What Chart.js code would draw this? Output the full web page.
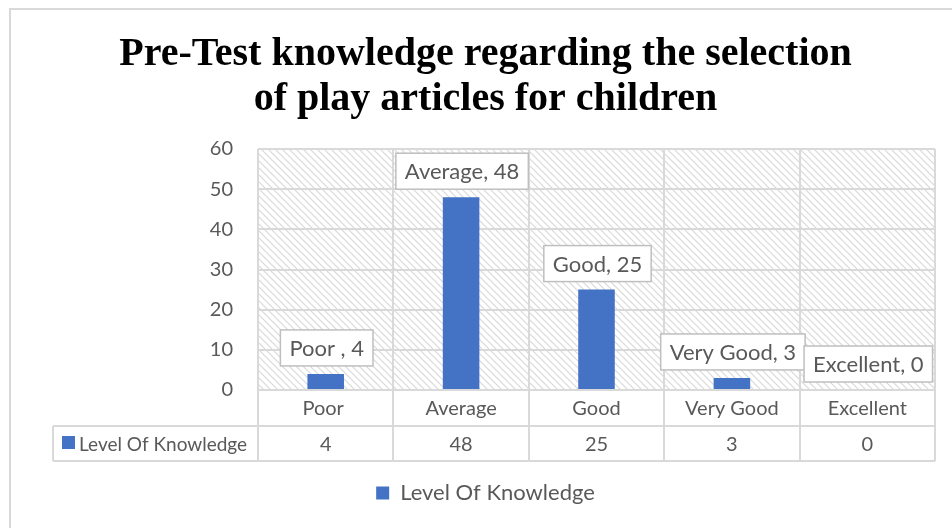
<!DOCTYPE html>
<html>
  <head>
    <title>Pre-Test knowledge</title>
    <script src="https://cdn.jsdelivr.net/npm/chart.js@4.4.0/dist/chart.umd.min.js"></script>
    <style>
      body { margin: 0; background: #fff; overflow: hidden; }
      #frame { position: absolute; left: 9px; top: 8px; width: 1000px; height: 600px; border: 2px solid #d9d9d9; }
      #myChart { position: absolute; left: 0; top: 0; }
    </style>
  </head>
  <body>
    <div id="frame"></div>
    <canvas id="myChart" width="952" height="528"></canvas>
    <script>
      // chart data
      var categories = ["Poor ", "Average", "Good", "Very Good", "Excellent"];
      var values = [4, 48, 25, 3, 0];
      var seriesName = "Level Of Knowledge";
      var yTicks = [0, 10, 20, 30, 40, 50, 60];

      var textGray = "#595959";
      var lineGray = "#d9d9d9";
      var barBlue = "#4472c4";
      var sans = "Lato";

      // diagonal hatch for the plot background
      function makeHatch() {
        var s = 7;
        var c = document.createElement("canvas");
        c.width = s;
        c.height = s;
        var g = c.getContext("2d");
        g.strokeStyle = lineGray;
        g.lineWidth = 1.2;
        g.beginPath();
        g.moveTo(-1, -1);
        g.lineTo(s + 1, s + 1);
        g.moveTo(-1, s - 1);
        g.lineTo(1, s + 1);
        g.moveTo(s - 1, -1);
        g.lineTo(s + 1, 1);
        g.stroke();
        return c;
      }

      var hatchPlugin = {
        id: "hatch",
        beforeDraw: function (chart) {
          var a = chart.chartArea;
          var ctx = chart.ctx;
          ctx.save();
          ctx.fillStyle = ctx.createPattern(makeHatch(), "repeat");
          ctx.fillRect(a.left, a.top, a.right - a.left, a.bottom - a.top);
          ctx.restore();
        },
      };

      // "Category, value" boxes over each bar
      var boxLabels = {
        id: "boxLabels",
        afterDatasetsDraw: function (chart) {
          var ctx = chart.ctx;
          var bars = chart.getDatasetMeta(0).data;
          ctx.save();
          ctx.font = "22px " + sans;
          ctx.textAlign = "center";
          ctx.textBaseline = "middle";
          bars.forEach(function (bar, i) {
            var txt = categories[i] + ", " + values[i];
            var w = ctx.measureText(txt).width + 18;
            var h = 36;
            var cx = bar.x + 1;
            var bottom = bar.y - 8;
            ctx.fillStyle = "#fff";
            ctx.fillRect(cx - w / 2, bottom - h, w, h);
            ctx.strokeStyle = "#bfbfbf";
            ctx.lineWidth = 1.5;
            ctx.strokeRect(cx - w / 2, bottom - h, w, h);
            ctx.fillStyle = textGray;
            ctx.fillText(txt, cx, bottom - h / 2 + 1);
          });
          ctx.restore();
        },
      };

      // data table under the plot
      var dataTable = {
        id: "dataTable",
        afterDraw: function (chart) {
          var ctx = chart.ctx;
          var x = chart.scales.x;
          var a = chart.chartArea;
          var n = categories.length;
          var cw = (a.right - a.left) / n;
          var top = a.bottom;
          var mid = top + 36;
          var bot = top + 71;
          var left = 53;
          ctx.save();
          ctx.strokeStyle = lineGray;
          ctx.lineWidth = 2;
          ctx.beginPath();
          ctx.moveTo(a.left, top);
          ctx.lineTo(a.right, top);
          ctx.moveTo(left, mid);
          ctx.lineTo(a.right, mid);
          ctx.moveTo(left, bot);
          ctx.lineTo(a.right, bot);
          ctx.moveTo(left, mid);
          ctx.lineTo(left, bot);
          for (var i = 0; i <= n; i++) {
            var px = Math.round(a.left + i * cw);
            ctx.moveTo(px, top);
            ctx.lineTo(px, bot);
          }
          ctx.stroke();

          ctx.font = "20px " + sans;
          ctx.fillStyle = textGray;
          ctx.textAlign = "center";
          ctx.textBaseline = "middle";
          for (var j = 0; j < n; j++) {
            var cx = x.getPixelForValue(j);
            ctx.fillText(categories[j], cx, (top + mid) / 2 + 1);
            ctx.fillText(String(values[j]), cx, (mid + bot) / 2 + 1);
          }
          ctx.fillStyle = barBlue;
          ctx.fillRect(62, mid + 10, 13, 13);
          ctx.font = "19px " + sans;
          ctx.fillStyle = textGray;
          ctx.textAlign = "left";
          ctx.fillText(seriesName, 79, (mid + bot) / 2 + 1);
          ctx.restore();
        },
      };

      var ctx = document.getElementById("myChart").getContext("2d");

      var chart = new Chart(ctx, {
        type: "bar",
        data: {
          labels: categories,
          datasets: [
            {
              label: seriesName,
              data: values,
              backgroundColor: barBlue,
              categoryPercentage: 1,
              barPercentage: 0.27,
            },
          ],
        },
        options: {
          responsive: false,
          animation: false,
          layout: { padding: { left: 36, right: 17, top: 0, bottom: 14 } },
          plugins: {
            tooltip: { enabled: false },
            title: {
              display: true,
              text: [
                "Pre-Test knowledge regarding the selection",
                "of play articles for children",
              ],
              color: "#000",
              font: { family: "Liberation Serif", size: 40, weight: "bold", lineHeight: 1.125 },
              padding: { top: 32, bottom: 27 },
            },
            legend: {
              position: "bottom",
              labels: {
                color: textGray,
                font: { family: sans, size: 22 },
                boxWidth: 13,
                boxHeight: 13,
                padding: 10,
              },
            },
          },
          scales: {
            x: {
              grid: { offset: true, color: lineGray, lineWidth: 2, drawTicks: false },
              border: { display: false },
              ticks: { display: false },
              afterFit: function (scale) {
                scale.height = 82;
              },
            },
            y: {
              min: 0,
              max: 60,
              afterBuildTicks: function (scale) {
                scale.ticks = yTicks.map(function (v) {
                  return { value: v };
                });
              },
              grid: { color: lineGray, lineWidth: 2, drawTicks: false },
              border: { display: false },
              ticks: {
                color: textGray,
                font: { family: sans, size: 20 },
                padding: 25,
              },
              afterFit: function (scale) {
                scale.width = 222;
              },
            },
          },
        },
        plugins: [hatchPlugin, boxLabels, dataTable],
      });
    </script>
  </body>
</html>
